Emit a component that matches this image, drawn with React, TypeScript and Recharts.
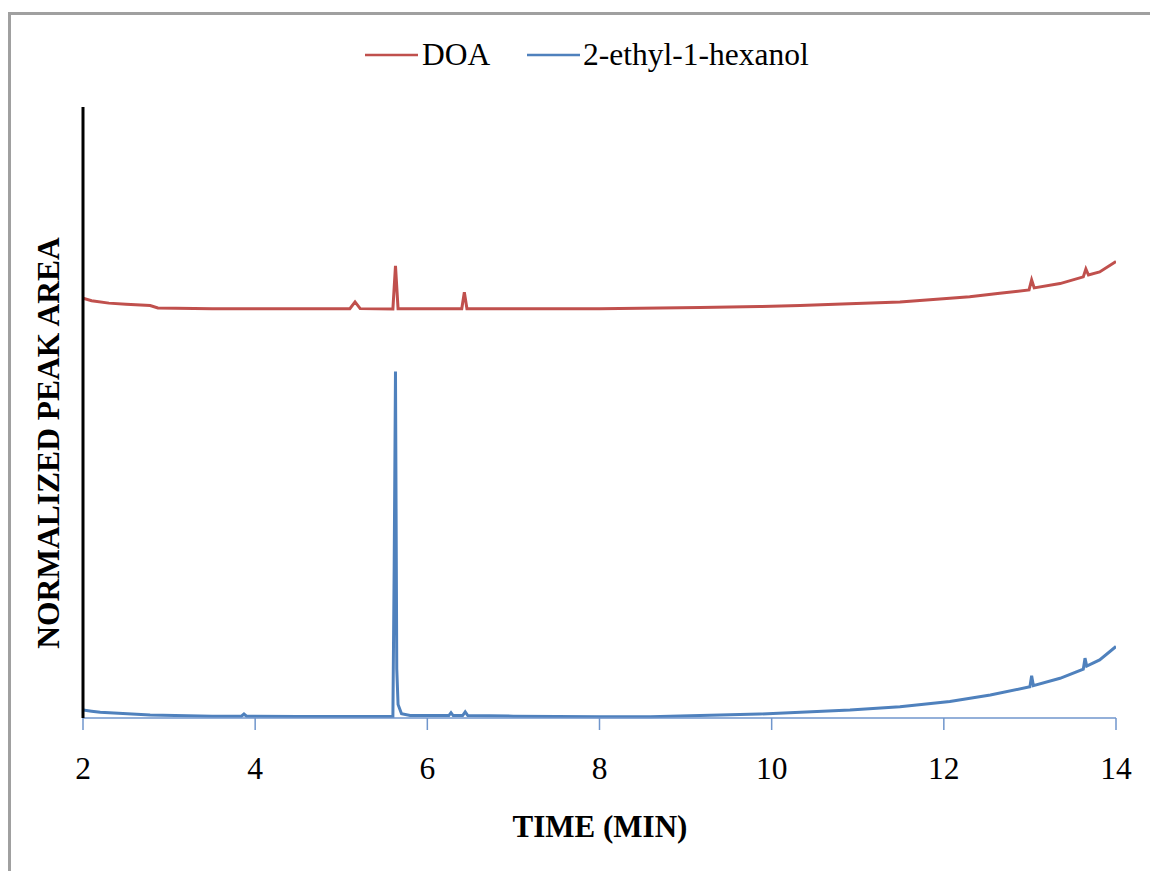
import { LineChart, Line, XAxis, YAxis } from "recharts";

// retention time (min) / normalized response
const doaTime = [2.0, 2.1, 2.3, 2.5, 2.78, 2.87, 3.5, 4.5, 5.1, 5.16, 5.22, 5.6, 5.63, 5.66, 5.9, 6.4, 6.43, 6.46, 7.0, 8.0, 9.17, 9.86, 10.33, 10.9, 11.49, 12.07, 12.3, 12.65, 12.99, 13.02, 13.05, 13.35, 13.62, 13.65, 13.68, 13.81, 14.0];
const doaValue = [68.7, 68.3, 67.9, 67.7, 67.5, 67.1, 67.0, 67.0, 67.0, 68.1, 67.0, 66.95, 74.0, 67.0, 67.0, 67.0, 69.7, 67.0, 67.0, 67.0, 67.2, 67.35, 67.5, 67.8, 68.1, 68.7, 68.95, 69.5, 70.05, 71.7, 70.4, 71.1, 72.2, 73.5, 72.5, 73.0, 74.7];

const hexTime = [2.0, 2.1, 2.2, 2.78, 3.36, 3.5, 3.84, 3.87, 3.9, 4.5, 5.0, 5.6, 5.615, 5.63, 5.645, 5.66, 5.7, 5.8, 6.25, 6.275, 6.3, 6.41, 6.44, 6.47, 7.0, 8.0, 8.59, 9.86, 10.91, 11.49, 12.07, 12.54, 13.0, 13.02, 13.04, 13.35, 13.62, 13.64, 13.66, 13.81, 14.0];
const hexValue = [1.3, 1.1, 0.93, 0.5, 0.33, 0.3, 0.3, 0.65, 0.3, 0.25, 0.25, 0.25, 25, 56.7, 8, 2.2, 0.7, 0.4, 0.4, 0.87, 0.4, 0.4, 1.0, 0.4, 0.3, 0.2, 0.2, 0.65, 1.3, 1.85, 2.7, 3.75, 5.1, 6.9, 5.3, 6.5, 8.0, 9.8, 8.5, 9.5, 11.7];

const xTicks = [2, 4, 6, 8, 10, 12, 14];

const doaData = doaTime.map((t, i) => ({ t, v: doaValue[i] }));
const hexData = hexTime.map((t, i) => ({ t, v: hexValue[i] }));

const RED = "#c0504d";
const BLUE = "#4f81bd";
const FONT = "'Liberation Serif', 'Times New Roman', serif";

export default function App() {
  return (
    <div style={{ position: "fixed", left: 0, top: 0, width: 1150, height: 871, overflow: "hidden", fontFamily: FONT, background: "#fff" }}>
      <div style={{ position: "absolute", left: 8, top: 8 }}>
        <LineChart
          width={1150}
          height={871}
          margin={{ top: 99, right: 42, bottom: 101, left: 0 }}
        >
          <XAxis
            type="number"
            dataKey="t"
            domain={[2, 14]}
            ticks={xTicks}
            allowDataOverflow
            height={60}
            axisLine={{ stroke: "#7096cc", strokeWidth: 1.5 }}
            tickLine={{ stroke: "#7096cc", strokeWidth: 1.5 }}
            tickSize={12}
            tickMargin={27}
            tick={{ fill: "#000", fontSize: 31.5, fontFamily: FONT }}
          />
          <YAxis
            type="number"
            domain={[0, 100]}
            width={75}
            tick={false}
            tickLine={false}
            axisLine={{ stroke: "#000", strokeWidth: 3 }}
          />
          <Line
            data={doaData}
            dataKey="v"
            name="DOA"
            stroke={RED}
            strokeWidth={3}
            dot={false}
            type="linear"
            isAnimationActive={false}
          />
          <Line
            data={hexData}
            dataKey="v"
            name="2-ethyl-1-hexanol"
            stroke={BLUE}
            strokeWidth={3}
            dot={false}
            type="linear"
            isAnimationActive={false}
          />
        </LineChart>
      </div>
      <svg width={1150} height={871} style={{ position: "absolute", left: 0, top: 0, pointerEvents: "none" }}>
        {/* frame: only top and left edges are in view */}
        <line x1={9.5} y1={12} x2={9.5} y2={871} stroke="#a0a0a0" strokeWidth={3} />
        <line x1={8} y1={13.5} x2={1150} y2={13.5} stroke="#a0a0a0" strokeWidth={3} />
        {/* legend */}
        <line x1={365} y1={55} x2={418} y2={55} stroke={RED} strokeWidth={2.5} />
        <text x={422} y={65} fontSize={31.5} fontFamily={FONT} fill="#000">DOA</text>
        <line x1={527} y1={55} x2={580} y2={55} stroke={BLUE} strokeWidth={2.5} />
        <text x={583} y={65} fontSize={31.5} fontFamily={FONT} fill="#000">2-ethyl-1-hexanol</text>
        {/* axis titles */}
        <text x={600} y={837} fontSize={31} fontWeight="bold" fontFamily={FONT} textAnchor="middle" fill="#000">
          TIME (MIN)
        </text>
        <text
          x={59}
          y={443}
          fontSize={31.5}
          fontWeight="bold"
          fontFamily={FONT}
          textAnchor="middle"
          fill="#000"
          transform="rotate(-90 59 443)"
        >
          NORMALIZED PEAK AREA
        </text>
      </svg>
    </div>
  );
}
